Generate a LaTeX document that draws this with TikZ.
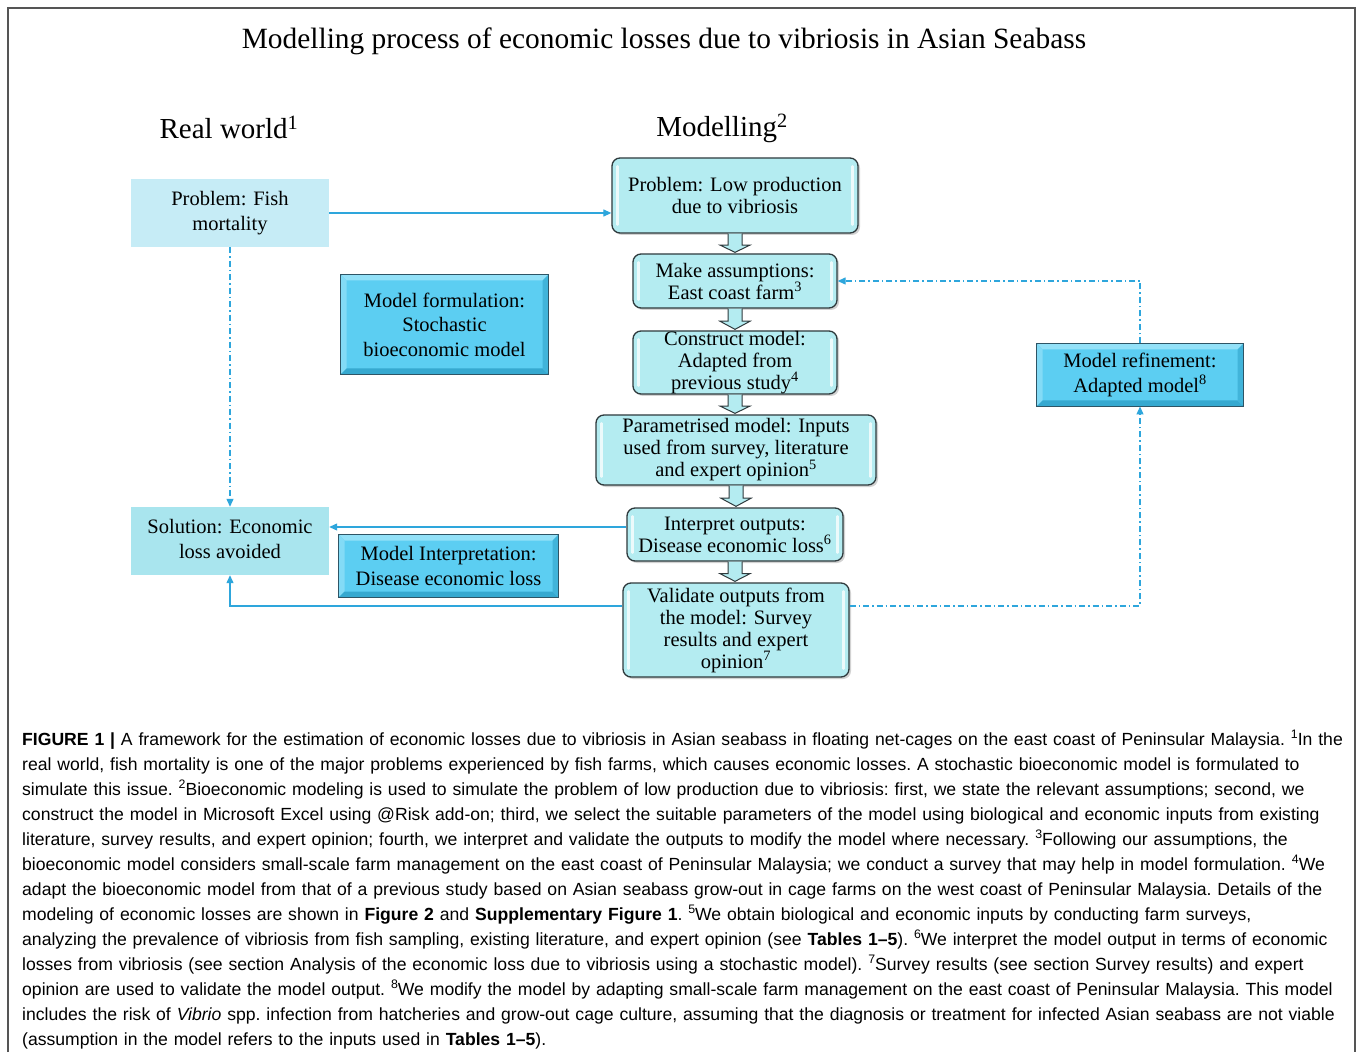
\documentclass[tikz,border=0pt]{standalone}
\usepackage{fontspec}
\setmainfont{Liberation Serif}
\newfontfamily\capfont[Ligatures=TeX]{Liberation Sans}
\usetikzlibrary{calc,arrows.meta,shadows}
\definecolor{framegray}{HTML}{555555}
\definecolor{lightA}{HTML}{C6ECF6}
\definecolor{lightB}{HTML}{A9E5EE}
\definecolor{roundfill}{HTML}{B4ECF1}
\definecolor{bevfill}{HTML}{5CCEF2}
\definecolor{bevtop}{HTML}{93E1F8}
\definecolor{bevbot}{HTML}{36A9D0}
\definecolor{bevborder}{HTML}{2E5566}
\definecolor{lineblue}{HTML}{2EA6DC}
\definecolor{boxborder}{HTML}{2F3A3D}
\tikzset{
  flatbox/.style={inner sep=0pt, align=center, font=\fontsize{20.5}{24.5}\selectfont},
  roundbox/.style={draw=boxborder, line width=1.3pt, fill=roundfill, rounded corners=8pt,
     inner sep=0pt, align=center, font=\fontsize{20.5}{22}\selectfont,
     drop shadow={shadow xshift=2pt, shadow yshift=-2pt, opacity=0.35}},
  bevbox/.style={draw=bevborder, line width=1pt, fill=bevfill, inner sep=0pt, align=center,
     font=\fontsize{20.5}{24.5}\selectfont},
  conn/.style={draw=lineblue, line width=1.2pt, -{Triangle[length=8pt,width=7pt]}},
  dashconn/.style={conn, dash pattern=on 6pt off 3pt on 1.5pt off 3pt},
  blockarr/.style={draw=boxborder, line width=1pt, fill=roundfill},
  shine/.style={draw=white, line width=2.5pt, opacity=0.75, line cap=round}
}
\newcommand\bevelit[1]{%
  \fill[bevtop] (#1.north west) -- (#1.north east) -- ([shift={(-6,6)}]#1.north east) -- ([shift={(6,6)}]#1.north west) -- cycle;
  \fill[bevtop!70!bevfill] (#1.north west) -- ([shift={(6,6)}]#1.north west) -- ([shift={(6,-6)}]#1.south west) -- (#1.south west) -- cycle;
  \fill[bevbot] (#1.south west) -- (#1.south east) -- ([shift={(-6,-6)}]#1.south east) -- ([shift={(6,-6)}]#1.south west) -- cycle;
  \fill[bevbot!70!bevfill] (#1.north east) -- ([shift={(-6,6)}]#1.north east) -- ([shift={(-6,-6)}]#1.south east) -- (#1.south east) -- cycle;
  \draw[bevborder, line width=1pt] (#1.north west) rectangle (#1.south east);
}
\newcommand\shineit[1]{%
  \draw[shine] ([shift={(6,9)}]#1.north west) -- ([shift={(6,-9)}]#1.south west);
  \draw[shine] ([shift={(-6,9)}]#1.north east) -- ([shift={(-6,-9)}]#1.south east);
}
\newcommand\blockarrow[2]{%
  \path let \p1=(#1.south), \p2=(#2.north), \n1={0.42*\y1+0.58*\y2} in
    coordinate (tmpA) at (\x1,\y1) coordinate (tmpB) at (\x1,\n1) coordinate (tmpC) at (\x1,\y2);
  \draw[blockarr] ([xshift=-7pt]tmpA) -- ([xshift=-7pt]tmpB) -- ([xshift=-15pt]tmpB) -- ([yshift=1pt]tmpC)
     -- ([xshift=15pt]tmpB) -- ([xshift=7pt]tmpB) -- ([xshift=7pt]tmpA);
}
\newcommand\sups[1]{\raisebox{0.38em}{\fontsize{0.7em}{0.7em}\selectfont #1}}
\newcommand\lowtwo[2]{\raisebox{-3pt}{\begin{tabular}{@{}c@{}}#1\\#2\end{tabular}}}
\begin{document}
\begin{tikzpicture}[x=1pt,y=-1pt]
\useasboundingbox (0,0) rectangle (1358,1056);
\fill[white] (0,0) rectangle (1358,1056);
\draw[framegray, line width=1.5pt] (8,1052) -- (8,8) -- (1355,8) -- (1355,1052);

% titles
\node[font=\fontsize{29.4}{32}\selectfont] (title) at (664,41) {Modelling process of economic losses due to vibriosis in Asian Seabass};
\node[font=\fontsize{29}{32}\selectfont] (rw) at (229,127) {Real world\textsuperscript{1}};
\node[font=\fontsize{29}{32}\selectfont] (mod) at (722,128) {Modelling\textsuperscript{2}};

% left flat boxes
\node[flatbox, fill=lightA, minimum width=198pt, minimum height=68pt] (pfish) at (230,213) {\lowtwo{Problem: Fish}{mortality}};
\node[flatbox, fill=lightB, minimum width=198pt, minimum height=68pt] (sol) at (230,541) {\lowtwo{Solution: Economic}{loss avoided}};

% bevel boxes
\node[bevbox, minimum width=207pt, minimum height=99pt] (form) at (444.5,324.5) {Model formulation:\\Stochastic\\bioeconomic model};
\bevelit{form}
\node[bevbox, minimum width=219pt, minimum height=62pt] (minterp) at (448.5,566) {Model Interpretation:\\Disease economic loss};
\bevelit{minterp}
\node[bevbox, minimum width=206pt, minimum height=62pt] (refine) at (1140,375) {Model refinement:\\Adapted model\textsuperscript{8}};
\bevelit{refine}

% rounded boxes
\node[roundbox, minimum width=246pt, minimum height=75pt] (plow) at (735,195.5) {Problem: Low production\\due to vibriosis};
\node[roundbox, minimum width=204pt, minimum height=54pt] (make) at (735,281) {Make assumptions:\\East coast farm\textsuperscript{3}};
\node[roundbox, minimum width=204pt, minimum height=63pt] (cons) at (735,362.5) {Construct model:\\Adapted from\\previous study\textsuperscript{4}};
\node[roundbox, minimum width=280pt, minimum height=70pt] (param) at (736,450) {Parametrised model: Inputs\\used from survey, literature\\and expert opinion\textsuperscript{5}};
\node[roundbox, minimum width=216pt, minimum height=53pt] (interp) at (735,534.5) {Interpret outputs:\\Disease economic loss\textsuperscript{6}};
\node[roundbox, minimum width=226pt, minimum height=94pt] (valid) at (736,630) {Validate outputs from\\the model: Survey\\results and expert\\opinion\textsuperscript{7}};
\foreach \n in {plow,make,cons,param,interp,valid}{\shineit{\n}}

% block arrows
\blockarrow{plow}{make}
\blockarrow{make}{cons}
\blockarrow{cons}{param}
\blockarrow{param}{interp}
\blockarrow{interp}{valid}

% connectors
\draw[conn] (pfish.east) -- (pfish.east -| plow.west);
\draw[dashconn] (pfish.south) -- (sol.north);
\coordinate (c1) at ([yshift=7.5pt]interp.west);
\draw[conn] (c1) -- (c1 -| sol.east);
\coordinate (c2) at ([yshift=24pt]valid.west);
\draw[conn] (c2) -| (sol.south);
\coordinate (c3) at ([yshift=24pt]valid.east);
\draw[dashconn] (c3) -| (refine.south);
\draw[dashconn] (refine.north) |- (make.east);

% caption
\node[anchor=north west, inner sep=0pt, align=left, text width=1400pt,
      font=\capfont\fontsize{17.6}{25}\selectfont\frenchspacing] (cap) at (22,730) {%
\textbf{FIGURE 1 |} A framework for the estimation of economic losses due to vibriosis in Asian seabass in floating net-cages on the east coast of Peninsular Malaysia. \sups{1}In the\\
real world, fish mortality is one of the major problems experienced by fish farms, which causes economic losses. A stochastic bioeconomic model is formulated to\\
simulate this issue. \sups{2}Bioeconomic modeling is used to simulate the problem of low production due to vibriosis: first, we state the relevant assumptions; second, we\\
construct the model in Microsoft Excel using @Risk add-on; third, we select the suitable parameters of the model using biological and economic inputs from existing\\
literature, survey results, and expert opinion; fourth, we interpret and validate the outputs to modify the model where necessary. \sups{3}Following our assumptions, the\\
bioeconomic model considers small-scale farm management on the east coast of Peninsular Malaysia; we conduct a survey that may help in model formulation. \sups{4}We\\
adapt the bioeconomic model from that of a previous study based on Asian seabass grow-out in cage farms on the west coast of Peninsular Malaysia. Details of the\\
modeling of economic losses are shown in \textbf{Figure 2} and \textbf{Supplementary Figure 1}. \sups{5}We obtain biological and economic inputs by conducting farm surveys,\\
analyzing the prevalence of vibriosis from fish sampling, existing literature, and expert opinion (see \textbf{Tables 1--5}). \sups{6}We interpret the model output in terms of economic\\
losses from vibriosis (see section Analysis of the economic loss due to vibriosis using a stochastic model). \sups{7}Survey results (see section Survey results) and expert\\
opinion are used to validate the model output. \sups{8}We modify the model by adapting small-scale farm management on the east coast of Peninsular Malaysia. This model\\
includes the risk of \textit{Vibrio} spp. infection from hatcheries and grow-out cage culture, assuming that the diagnosis or treatment for infected Asian seabass are not viable\\
(assumption in the model refers to the inputs used in \textbf{Tables 1--5}).};
\end{tikzpicture}
\end{document}
